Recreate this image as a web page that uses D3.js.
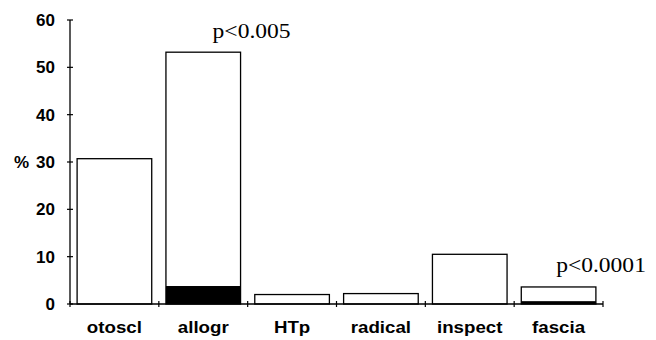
<!DOCTYPE html>
<html>
<head>
<meta charset="utf-8">
<script src="https://cdn.jsdelivr.net/npm/d3@7"></script>
<style>
  body { margin: 0; background: #fff; }
  .lbl { font-family: "Liberation Sans", Arial, sans-serif; font-weight: bold; font-size: 17px; fill: #000; }
  .pval { font-family: "Liberation Serif", "Times New Roman", serif; font-size: 21px; fill: #000; }
</style>
</head>
<body>
<div id="chart"></div>
<script>
// data
const categories = ['otoscl', 'allogr', 'HTp', 'radical', 'inspect', 'fascia'];
const totals = [30.7, 53.2, 2.0, 2.2, 10.5, 3.6];
const darkPart = [0, 3.8, 0, 0, 0, 0.6];
const yTicks = [0, 10, 20, 30, 40, 50, 60];
const notes = [
  { cat: 'allogr', text: 'p<0.005' },
  { cat: 'fascia', text: 'p<0.0001' }
];

const width = 656;
const height = 340;

const svg = d3.select('#chart').append('svg')
  .attr('width', width)
  .attr('height', height);

// set the ranges
const x = d3.scaleBand().domain(categories).range([70, 603])
  .paddingInner(0.16).paddingOuter(0.08);
const y = d3.scaleLinear().domain([0, 60]).range([304, 20]);

const data = categories.map((c, i) => ({ cat: c, total: totals[i], dark: darkPart[i] }));

// the scanned lettering is a bit wider than the installed fonts
function widen(sel, k) {
  sel.each(function () {
    const w = this.getComputedTextLength();
    d3.select(this).attr('textLength', w * k).attr('lengthAdjust', 'spacingAndGlyphs');
  });
}

// white bars with outline
svg.selectAll('.bar')
  .data(data)
  .enter().append('rect')
  .attr('class', 'bar')
  .attr('x', (d) => x(d.cat))
  .attr('y', (d) => y(d.total))
  .attr('width', x.bandwidth())
  .attr('height', (d) => y(0) - y(d.total))
  .attr('fill', '#fff')
  .attr('stroke', '#000')
  .attr('stroke-width', 1.3);

// black lower part
svg.selectAll('.dark')
  .data(data.filter((d) => d.dark > 0))
  .enter().append('rect')
  .attr('class', 'dark')
  .attr('x', (d) => x(d.cat))
  .attr('y', (d) => y(d.dark))
  .attr('width', x.bandwidth())
  .attr('height', (d) => y(0) - y(d.dark))
  .attr('fill', '#000');

// y axis
const yAxis = svg.append('g').attr('transform', 'translate(70,0)');
yAxis.append('line')
  .attr('y1', y(0)).attr('y2', y(60))
  .attr('stroke', '#000').attr('stroke-width', 1.3);
yAxis.selectAll('.ytick')
  .data(yTicks)
  .enter().append('line')
  .attr('x1', -3).attr('x2', 3)
  .attr('y1', (d) => y(d)).attr('y2', (d) => y(d))
  .attr('stroke', '#000').attr('stroke-width', 1.2);
yAxis.selectAll('.ylbl')
  .data(yTicks)
  .enter().append('text')
  .attr('class', 'lbl')
  .attr('x', -15)
  .attr('y', (d) => y(d))
  .attr('dy', '0.36em')
  .attr('text-anchor', 'end')
  .text((d) => d);
yAxis.append('text')
  .attr('class', 'lbl')
  .attr('x', -56)
  .attr('y', y(30))
  .attr('dy', '0.36em')
  .text('%');

// x axis with ticks at band boundaries
const xAxis = svg.append('g');
xAxis.append('line')
  .attr('x1', 70).attr('x2', 603)
  .attr('y1', y(0)).attr('y2', y(0))
  .attr('stroke', '#000').attr('stroke-width', 1.3);
const bounds = d3.range(categories.length + 1).map((i) => 70 + i * x.step());
xAxis.selectAll('.xtick')
  .data(bounds)
  .enter().append('line')
  .attr('x1', (d) => d).attr('x2', (d) => d)
  .attr('y1', y(0) - 3).attr('y2', y(0) + 3)
  .attr('stroke', '#000').attr('stroke-width', 1.2);
xAxis.selectAll('.xlbl')
  .data(categories)
  .enter().append('text')
  .attr('class', 'lbl')
  .attr('x', (d) => x(d) + x.bandwidth() / 2)
  .attr('y', 333)
  .attr('text-anchor', 'middle')
  .text((d) => d)
  .call(widen, 1.1);

// significance notes
svg.selectAll('.pval')
  .data(notes)
  .enter().append('text')
  .attr('class', 'pval')
  .attr('x', (d) => x(d.cat) + x.bandwidth() + 50)
  .attr('y', (d) => y(totals[categories.indexOf(d.cat)]) - 14.5)
  .attr('text-anchor', 'end')
  .text((d) => d.text)
  .call(widen, 1.12);
</script>
</body>
</html>
